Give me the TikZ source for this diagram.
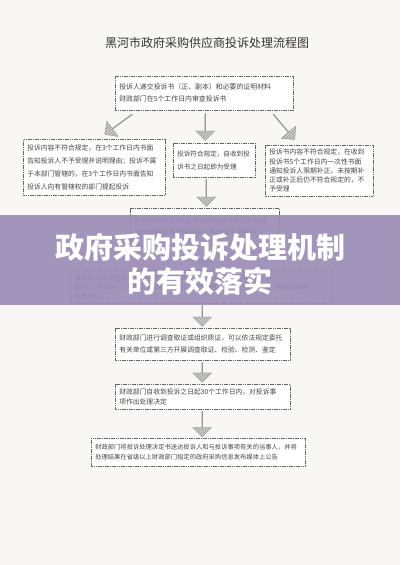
\documentclass[tikz,border=0pt]{standalone}
\usepackage{fontspec}
\setmainfont{Noto Sans CJK SC}
\usetikzlibrary{shapes.arrows,patterns,calc}
\definecolor{page}{RGB}{248,247,245}
\definecolor{ink}{RGB}{70,70,70}
\definecolor{frame}{RGB}{100,100,100}
\definecolor{bannerbg}{RGB}{155,140,182}
\newcommand\boxfont[2]{\fontsize{#1}{#2}\selectfont}
\tikzset{
  box/.style={draw=frame, line width=0.5pt, dash pattern=on 1.6pt off 0.7pt,
    anchor=north west, align=left, inner xsep=4pt, inner ysep=3pt, text=ink, fill=white},
  blockarrow/.style={single arrow, draw=gray!80, line width=0.4pt, fill=gray!38,
    postaction={pattern=north east lines, pattern color=gray!85},
    minimum width=19pt, single arrow head extend=4.5pt, single arrow head indent=0pt,
    inner sep=0pt, sloped, allow upside down, midway},
  bannertext/.style={text=white, font=\boxfont{29}{30}\bfseries},
}
\begin{document}
\begin{tikzpicture}[x=1pt,y=-1pt]
\fill[page] (0,0) rectangle (400,565);
\useasboundingbox (0,0) rectangle (400,565);

\node[text=black!80, font=\boxfont{12}{14}] (title) at (207,43) {黑河市政府采购供应商投诉处理流程图};

\node[box, text width=170pt, minimum height=34pt, font=\boxfont{6.9}{12}] (b1) at (115,76)
  {投诉人递交投诉书（正、副本）和必要的证明材料\\财政部门在5个工作日内审查投诉书};

\node[box, text width=134pt, minimum height=56pt, font=\boxfont{6.8}{13}] (bl) at (23,139)
  {投诉内容不符合规定，在3个工作日内书面\\告知投诉人不予受理并说明理由；投诉不属\\于本部门管辖的，在3个工作日内书面告知\\投诉人向有管辖权的部门提起投诉};

\node[box, text width=74pt, minimum height=34pt, font=\boxfont{6.6}{13}] (bc) at (173,143)
  {投诉符合规定，自收到投\\诉书之日起即为受理};

\node[box, text width=100pt, minimum height=51pt, font=\boxfont{6.8}{9.2}] (br) at (265,145)
  {投诉书内容不符合规定，在收到\\投诉书5个工作日内一次性书面\\通知投诉人限期补正，未按期补\\正或补正后仍不符合规定的，不\\予受理};

\node[box, text width=141pt, minimum height=37pt, font=\boxfont{6.8}{11}] (b4) at (130,208)
  {收到投诉书后5个工作日内向被投诉人和其他\\与投诉事项有关的当事人发送投诉书副本};

\node[box, text width=254pt, minimum height=33pt, font=\boxfont{6.6}{9}] (b5) at (70,270)
  {被投诉人和其他与投诉事项有关的当事人应当在收到投诉书副本之日\\起5个工作日内，以书面形式向财政部门作出说明，并提交相关证据、依据和其他\\有关材料};

\node[box, text width=167pt, minimum height=32pt, font=\boxfont{6.8}{12}] (b6) at (115,328)
  {财政部门进行调查取证或组织质证，可以依法规定委托\\有关单位或第三方开展调查取证、检验、检测、鉴定};

\node[box, text width=167pt, minimum height=25pt, font=\boxfont{6.8}{9.5}] (b7) at (115,384)
  {财政部门自收到投诉之日起30个工作日内，对投诉事\\项作出处理决定};

\node[box, text width=206pt, minimum height=28pt, font=\boxfont{6.3}{9.6}] (b8) at (91,438)
  {财政部门将投诉处理决定书送达投诉人和与投诉事项有关的当事人，并将\\处理结果在省级以上财政部门指定的政府采购信息发布媒体上公告};

% block arrows (connectors)
\path ($(b1.south west)+(17,4)$) -- ($(bl.north)+(11,-5)$) node[blockarrow, minimum height=34pt] (al) {};
\path ($(b1.south)+(1,3)$) -- ($(bc.north)+(-9,-3)$) node[blockarrow, minimum height=27pt] (ac) {};
\path ($(b1.south east)+(-20,4)$) -- ($(br.north)+(-25,-6)$) node[blockarrow, minimum height=33pt] (ar) {};
\path ($(bc.south)+(-8,2)$) -- ($(b4.north)+(1.5,-2)$) node[blockarrow, minimum height=27pt] (a2) {};
\path ($(b4.south)+(0.5,2)$) -- ($(b5.north)+(4,-2)$) node[blockarrow, minimum height=21pt] (a3) {};
\path ($(b5.south)+(1,2)$) -- ($(b6.north)+(-0.5,-2)$) node[blockarrow, minimum height=21pt] (a4) {};
\path ($(b6.south)+(-0.5,2)$) -- ($(b7.north)+(-0.5,-2)$) node[blockarrow, minimum height=20pt] (a5) {};
\path ($(b7.south)+(-0.5,2)$) -- ($(b8.north)+(4,-2)$) node[blockarrow, minimum height=26pt] (a6) {};

% overlay banner
\fill[bannerbg, opacity=0.92] (0,215) rectangle (400,305);
\node[bannertext] (t1) at (200,247) {政府采购投诉处理机制};
\node[bannertext] (t2) at (200,281) {的有效落实};
\end{tikzpicture}
\end{document}
